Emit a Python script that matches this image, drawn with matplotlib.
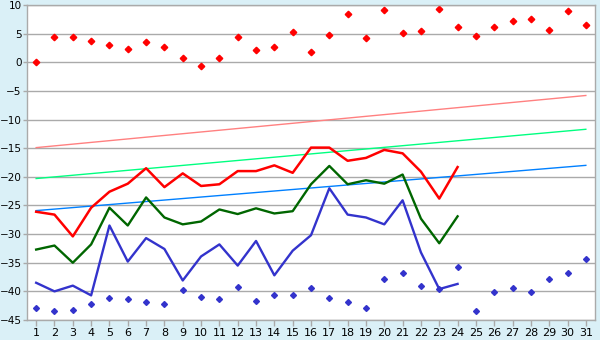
import numpy as np
import matplotlib
matplotlib.use("Agg")
import matplotlib.pyplot as plt

# Data
days = np.arange(1, 32)

top_points = [0.0, 4.4, 4.4, 3.7, 3.0, 2.3, 3.5, 2.6, 0.7, -0.7,
              0.7, 4.4, 2.1, 2.6, 5.3, 1.8, 4.7, 8.4, 4.2, 9.1,
              5.1, 5.4, 9.3, 6.1, 4.6, 6.1, 7.2, 7.5, 5.6, 9.0, 6.5]

bottom_points = [-42.9, -43.4, -43.2, -42.2, -41.1, -41.4, -41.8, -42.2, -39.7, -41.0,
                 -41.3, -39.2, -41.7, -40.6, -40.6, -39.4, -41.1, -41.8, -42.9, -37.8,
                 -36.8, -39.0, -39.6, -35.7, -43.4, -40.1, -39.4, -40.1, -37.8, -36.8, -34.3]

line_days = np.arange(1, 25)
red_line = [-26.1, -26.6, -30.4, -25.4, -22.6, -21.2, -18.5, -21.8, -19.4, -21.6,
            -21.3, -19.0, -19.0, -18.0, -19.3, -14.9, -14.9, -17.2, -16.7, -15.3,
            -15.9, -19.1, -23.8, -18.3]
green_line = [-32.7, -32.0, -35.0, -31.8, -25.4, -28.5, -23.6, -27.1, -28.3, -27.8,
              -25.7, -26.5, -25.5, -26.4, -26.0, -21.3, -18.1, -21.3, -20.6, -21.2,
              -19.6, -27.3, -31.6, -26.9]
blue_line = [-38.5, -40.0, -39.0, -40.7, -28.5, -34.8, -30.7, -32.6, -38.1, -33.9,
             -31.8, -35.5, -31.2, -37.2, -32.9, -30.2, -22.0, -26.6, -27.1, -28.3,
             -24.1, -33.2, -39.6, -38.7]

# straight reference lines: value at day 1 and day 31
trend_days = [1, 31]
pink_trend = [-14.9, -5.8]
mint_trend = [-20.3, -11.7]
sky_trend = [-25.9, -18.0]

fig = plt.figure(figsize=(6, 3.4), dpi=100, facecolor='#DAF0F7')
ax = fig.add_axes([27 / 600, 20 / 340, 568 / 600, 315 / 340])
ax.set_facecolor('white')

ax.plot(trend_days, pink_trend, color='#FF8080', lw=1)
ax.plot(trend_days, mint_trend, color='#00FF80', lw=1)
ax.plot(trend_days, sky_trend, color='#0080FF', lw=1)

ax.plot(line_days, blue_line, color='#3333CC', lw=1.7)
ax.plot(line_days, green_line, color='#006600', lw=1.7)
ax.plot(line_days, red_line, color='#FF0000', lw=1.8)

ax.plot(days, top_points, ls='none', marker='D', ms=3.3, color='#FF0000')
ax.plot(days, bottom_points, ls='none', marker='D', ms=3.0, color='#3333CC')

ax.set_xlim(0.5, 31.5)
ax.set_ylim(-45, 10)
ax.set_xticks(days)
ax.set_yticks(np.arange(-45, 11, 5))
ax.yaxis.grid(True, color='#AAAAAA', lw=1)
ax.set_axisbelow(True)
ax.tick_params(axis='both', colors='#000000', labelsize=8, length=3,
               width=1, color='#AAAAAA', pad=1)
ax.tick_params(axis='y', labelsize=7.5)
ax.tick_params(axis='x', length=4, pad=2)
for s in ax.spines.values():
    s.set_color('#AAAAAA')
    s.set_linewidth(1)

fig.savefig('out.png', dpi=100, facecolor=fig.get_facecolor())
